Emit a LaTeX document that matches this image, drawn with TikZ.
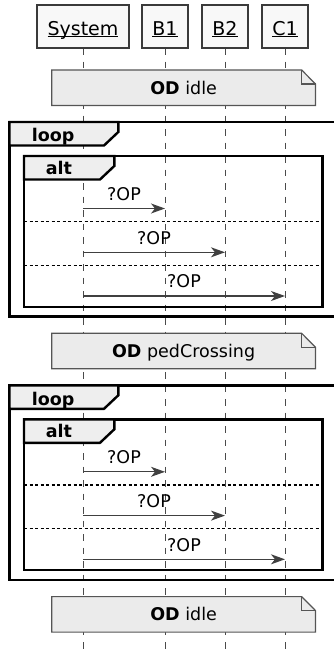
\documentclass[tikz,border=0pt]{standalone}
\usepackage{fontspec}
\setmainfont{DejaVu Sans}
\usetikzlibrary{arrows.meta}

\definecolor{partfill}{HTML}{F8F8F8}
\definecolor{partline}{HTML}{3A3A3A}
\definecolor{lifecol}{HTML}{4A4A4A}
\definecolor{notefill}{HTML}{EBEBEB}
\definecolor{noteline}{HTML}{555555}
\definecolor{tabfill}{HTML}{EEEEEE}
\definecolor{msgcol}{HTML}{404040}

\pgfdeclarelayer{bg}
\pgfsetlayers{bg,main}

\tikzset{
  part/.style={draw=partline, line width=1.5pt, fill=partfill, outer sep=0pt,
    inner xsep=10.4pt, inner ysep=0pt, text height=30pt, text depth=13pt,
    anchor=base, font=\fontsize{19}{22}\selectfont},
  uline/.style={line width=1.2pt},
  lifeline/.style={draw=lifecol, line width=1pt, dash pattern=on 6.5pt off 7pt},
  notebox/.style={inner sep=0pt, outer sep=0pt, minimum width=263.8pt,
    text height=24pt, text depth=11.5pt, anchor=base,
    font=\fontsize{17.5}{21}\selectfont},
  noteshape/.style={draw=noteline, line width=1.2pt, fill=notefill, line join=miter},
  frame/.style={draw=black, line width=2.4pt},
  tab/.style={frame, fill=tabfill, line join=miter},
  grouplbl/.style={anchor=base west, inner sep=0pt,
    font=\bfseries\fontsize{17.5}{21}\selectfont},
  divider/.style={draw=black, line width=1.2pt, dash pattern=on 3pt off 2.5pt},
  msg/.style={draw=msgcol, line width=1.3pt,
    -{Stealth[length=14pt,width=10pt,inset=4pt]}},
  msglbl/.style={anchor=base, inner sep=0pt, yshift=8.3pt,
    font=\fontsize{17.5}{21}\selectfont},
}

\begin{document}
\begin{tikzpicture}[x=1pt,y=-1pt]
  \clip (0,0) rectangle (334,654);

  % participants
  \node[part] (sys) at (83,35)  {System};
  \node[part] (b1)  at (165,35) {B1};
  \node[part] (b2)  at (225,35) {B2};
  \node[part] (c1)  at (285,35) {C1};
  \foreach \p in {sys,b1,b2,c1}
    \draw[uline] ([xshift=10.4pt,yshift=-1.8pt]\p.base west)
              -- ([xshift=-10.4pt,yshift=-1.8pt]\p.base east);

  \coordinate (sysEnd) at (83,654);
  \coordinate (b1End)  at (165,654);
  \coordinate (b2End)  at (225,654);
  \coordinate (c1End)  at (285,654);

  % notes spanning all lifelines
  \node[notebox] (note0) at (183.6,94)        {\textbf{OD} idle};
  \node[notebox] (note1) at (183.6,94+263.3)  {\textbf{OD} pedCrossing};
  \node[notebox] (note2) at (183.6,94+526.6)  {\textbf{OD} idle};

  \begin{pgfonlayer}{bg}
    \foreach \p in {sys,b1,b2,c1}
      \draw[lifeline] (\p.south) -- (\p End);
    \foreach \n in {note0,note1,note2} {
      \draw[noteshape] (\n.north west) -- ([xshift=-13.8pt]\n.north east)
        -- ([yshift=-14pt]\n.north east) -- (\n.south east)
        -- (\n.south west) -- cycle;
      \draw[noteshape, fill=none] ([xshift=-13.8pt]\n.north east)
        -- ([xshift=-13.8pt,yshift=-14pt]\n.north east)
        -- ([yshift=-14pt]\n.north east);
    }
  \end{pgfonlayer}

  % two loop/alt blocks
  \foreach \k in {0,1} {
    \pgfmathsetmacro\d{263.3*\k}
    % loop frame and tab
    \draw[frame] (9.5,122+\d) rectangle (345,316.5+\d);
    \draw[tab] (9.5,122+\d) -- (118.3,122+\d) -- (118.3,132+\d)
      -- (104,145.5+\d) -- (9.5,145.5+\d) -- cycle;
    \node[grouplbl] (loop\k) at (31.7,141.7+\d) {loop};
    % alt frame and tab
    \draw[frame] (24,156+\d) rectangle (322.3,306.7+\d);
    \draw[tab] (24,156+\d) -- (114.3,156+\d) -- (114.3,166+\d)
      -- (100,179.5+\d) -- (24,179.5+\d) -- cycle;
    \node[grouplbl] (alt\k) at (45.7,174.5+\d) {alt};
    % alternative separators
    \draw[divider] (24,221.7+\d) -- (322.3,221.7+\d);
    \draw[divider] (24,265.3+\d) -- (322.3,265.3+\d);
    % messages
    \coordinate (rowA\k) at (0,208.5+\d);
    \coordinate (rowB\k) at (0,252.3+\d);
    \coordinate (rowC\k) at (0,296+\d);
    \draw[msg] (sys |- rowA\k) -- node[msglbl] (opA\k) {?OP} (b1 |- rowA\k);
    \draw[msg] (sys |- rowB\k) -- node[msglbl] (opB\k) {?OP} (b2 |- rowB\k);
    \draw[msg] (sys |- rowC\k) -- node[msglbl] (opC\k) {?OP} (c1 |- rowC\k);
  }
\end{tikzpicture}
\end{document}
